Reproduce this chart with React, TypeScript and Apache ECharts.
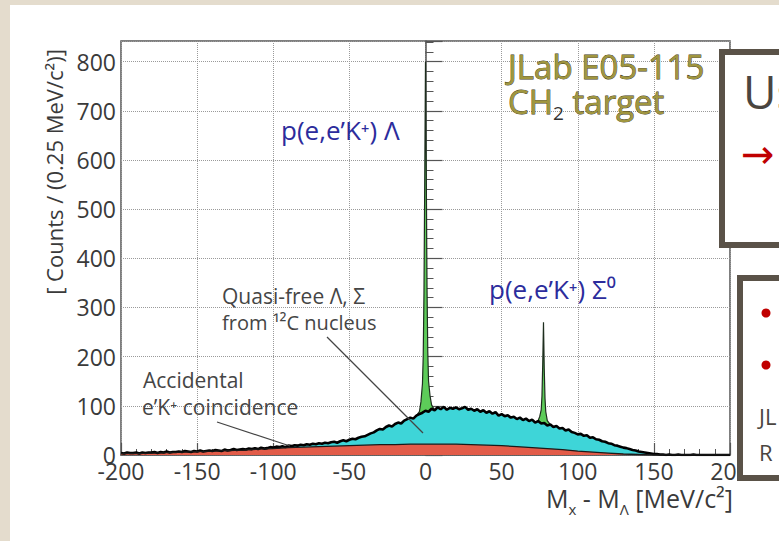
import React, { useEffect, useRef } from 'react';
import * as echarts from 'echarts';

// Bin centres of the histogram (2 MeV/c^2 steps, -200 .. 200)
const binCenters = Array.from({ length: 201 }, (_, i) => -200 + 2 * i);

// Total counts without the two hyperon peaks (quasi-free + accidental)
const totalCounts = [
  4, 3, 5, 4, 4, 5, 3, 5, 4, 5,
  5, 6, 4, 6, 5, 7, 5, 6, 6, 7,
  6, 8, 7, 6, 8, 7, 9, 7, 8, 9,
  8, 10, 9, 8, 11, 9, 10, 12, 10, 11,
  12, 11, 13, 12, 14, 12, 15, 13, 14, 16,
  15, 17, 16, 18, 16, 19, 18, 20, 19, 21,
  20, 22, 21, 23, 22, 24, 23, 25, 24, 26,
  27, 25, 28, 30, 28, 31, 33, 32, 35, 37,
  38, 41, 44, 46, 50, 53, 52, 57, 60, 58,
  63, 66, 64, 70, 73, 76, 74, 80, 83, 86,
  90, 88, 94, 91, 97, 93, 98, 92, 96, 94,
  97, 93, 95, 98, 92, 94, 90, 93, 88, 91,
  86, 89, 84, 87, 80, 83, 79, 81, 76, 78,
  73, 76, 71, 74, 69, 72, 66, 69, 64, 65,
  60, 62, 57, 59, 54, 55, 50, 52, 47, 45,
  42, 43, 39, 40, 35, 36, 32, 31, 28, 27,
  24, 23, 20, 19, 17, 15, 14, 12, 10, 9,
  7, 6, 5, 4, 3, 2, 2, 1, 1, 0,
  1, 0, 0, 1, 0, 0, 0, 0, 1, 0,
  0, 0, 0, 0, 0, 0, 0, 0, 0, 0,
  0,
];

// Accidental e'K+ coincidence background
const accidentalX = Array.from({ length: 41 }, (_, i) => -200 + 10 * i);
const accidentalCounts = [
  3, 3, 4, 5, 6, 7, 8, 9, 10, 12,
  13, 15, 16, 17, 18, 19, 20, 21, 21, 22,
  22, 22, 22, 21, 20, 19, 17, 15, 13, 11,
  8, 6, 4, 2, 1, 0, 0, 0, 0, 0,
  0,
];

// p(e,e'K+)Lambda peak
const lambdaPeakX = [-6, -4, -3, -2, -1.5, -1, -0.5, 0, 0.5, 1, 1.5, 2, 3, 4, 6];
const lambdaPeakCounts = [80, 88, 108, 145, 200, 330, 560, 800, 580, 340, 210, 150, 120, 102, 91];

// p(e,e'K+)Sigma0 peak
const sigmaPeakX = [72, 74, 75, 76, 76.5, 77, 77.5, 78, 78.5, 79, 80, 82];
const sigmaPeakCounts = [66, 70, 78, 92, 120, 185, 270, 175, 115, 88, 70, 62];

const FONT = '"Open Sans", "Noto Sans", "DejaVu Sans", sans-serif';
const AXIS_COLOR = '#555555';
const TEXT_COLOR = '#3a3a3a';

const zip = (xs: number[], ys: number[]) => xs.map((x, i) => [x, ys[i]]);

export default function App() {
  const ref = useRef<HTMLDivElement>(null);

  useEffect(() => {
    if (!ref.current) return;
    const chart = echarts.init(ref.current, null, { renderer: 'svg', width: 779, height: 541 });

    const option: any = {
      animation: false,
      backgroundColor: 'transparent',
      textStyle: { fontFamily: FONT },
      grid: {
        left: 121,
        right: 49,
        top: 41,
        bottom: 86,
        show: true,
        borderColor: AXIS_COLOR,
        borderWidth: 1.5,
        backgroundColor: 'transparent',
        containLabel: false,
        outerBoundsMode: 'none',
      },
      xAxis: {
        type: 'value',
        min: -200,
        max: 200,
        interval: 50,
        axisLine: { show: true, onZero: false, lineStyle: { color: AXIS_COLOR, width: 1.5 } },
        axisTick: { show: true, inside: true, length: 12, lineStyle: { color: AXIS_COLOR, width: 1.2 } },
        minorTick: { show: true, splitNumber: 5, length: 6, lineStyle: { color: AXIS_COLOR, width: 1 } },
        axisLabel: { color: TEXT_COLOR, fontSize: 23, fontFamily: FONT, margin: 4 },
        splitLine: { show: true, lineStyle: { type: 'dotted', color: '#9a9a9a', width: 1 } },
      },
      yAxis: {
        type: 'value',
        min: 0,
        max: 842,
        interval: 100,
        axisLine: { show: true, lineStyle: { color: AXIS_COLOR, width: 1.5 } },
        axisTick: { show: true, inside: true, length: 17, lineStyle: { color: AXIS_COLOR, width: 1.2 } },
        minorTick: { show: true, splitNumber: 5, length: 8, lineStyle: { color: AXIS_COLOR, width: 1 } },
        axisLabel: { color: TEXT_COLOR, fontSize: 23, fontFamily: FONT, margin: 5, showMaxLabel: false },
        splitLine: { show: true, lineStyle: { type: 'dotted', color: '#9a9a9a', width: 1 } },
      },
      series: [
        {
          name: 'Lambda peak',
          type: 'line',
          data: zip(lambdaPeakX, lambdaPeakCounts),
          symbol: 'none',
          z: 2,
          lineStyle: { color: '#1e2e1e', width: 1.2 },
          areaStyle: { color: '#5dcc59', opacity: 1 },
        },
        {
          name: 'Sigma0 peak',
          type: 'line',
          data: zip(sigmaPeakX, sigmaPeakCounts),
          symbol: 'none',
          z: 2,
          lineStyle: { color: '#1e2e1e', width: 1.2 },
          areaStyle: { color: '#5dcc59', opacity: 1 },
        },
        {
          name: 'Quasi-free',
          type: 'line',
          data: zip(binCenters, totalCounts),
          symbol: 'none',
          z: 3,
          lineStyle: { color: '#000000', width: 2.6 },
          areaStyle: { color: '#3ed5d8', opacity: 1 },
        },
        {
          name: 'Accidental',
          type: 'line',
          data: zip(accidentalX, accidentalCounts),
          symbol: 'none',
          z: 3,
          lineStyle: { color: '#1a1a1a', width: 1.3 },
          areaStyle: { color: '#e25c49', opacity: 1 },
        },
      ],
      graphic: [
        // y-axis title
        {
          type: 'text', x: 54, y: 172, rotation: Math.PI / 2, z: 10,
          style: { text: '[ Counts / (0.25 MeV/c²)]', align: 'center', verticalAlign: 'middle', fontSize: 22, fontFamily: FONT, fill: TEXT_COLOR },
        },
        // x-axis title
        {
          type: 'text', x: 733, y: 498, z: 10,
          style: {
            text: 'M{s|x} - M{s|Λ} [MeV/c²]', align: 'right', verticalAlign: 'middle', fontSize: 25, fontFamily: FONT, fill: TEXT_COLOR,
            rich: { s: { fontSize: 15, fontFamily: FONT, fill: TEXT_COLOR, padding: [22, 0, 0, 0] } },
          },
        },
        // experiment label
        {
          type: 'text', x: 508, y: 66, z: 10,
          style: { text: 'JLab E05-115', align: 'left', verticalAlign: 'middle', fontSize: 33, fontFamily: FONT, fill: '#a0963f', stroke: '#3c3818', lineWidth: 0.8 },
        },
        {
          type: 'text', x: 508, y: 101, z: 10,
          style: {
            text: 'CH{s|2} target', align: 'left', verticalAlign: 'middle', fontSize: 33, fontFamily: FONT, fill: '#a0963f', stroke: '#3c3818', lineWidth: 0.8,
            rich: { s: { fontSize: 19, fontFamily: FONT, fill: '#333333', stroke: 'none', padding: [24, 0, 0, 0] } },
          },
        },
        // peak labels
        {
          type: 'text', x: 281, y: 130, z: 10,
          style: { text: 'p(e,e’K⁺) Λ', align: 'left', verticalAlign: 'middle', fontSize: 26, fontFamily: FONT, fill: '#2c2c9c' },
        },
        {
          type: 'text', x: 489, y: 289, z: 10,
          style: { text: 'p(e,e’K⁺) Σ⁰', align: 'left', verticalAlign: 'middle', fontSize: 26, fontFamily: FONT, fill: '#2c2c9c' },
        },
        // quasi-free label
        {
          type: 'text', x: 222, y: 296, z: 10,
          style: { text: 'Quasi-free Λ, Σ', align: 'left', verticalAlign: 'middle', fontSize: 21, fontFamily: FONT, fill: '#454545' },
        },
        {
          type: 'text', x: 222, y: 322, z: 10,
          style: { text: 'from ¹²C nucleus', align: 'left', verticalAlign: 'middle', fontSize: 20, fontFamily: FONT, fill: '#454545' },
        },
        { type: 'line', z: 10, shape: { x1: 327, y1: 337, x2: 423, y2: 433 }, style: { stroke: '#444444', lineWidth: 1.3 } },
        // accidental label
        {
          type: 'text', x: 143, y: 380, z: 10,
          style: { text: 'Accidental', align: 'left', verticalAlign: 'middle', fontSize: 21, fontFamily: FONT, fill: '#454545' },
        },
        {
          type: 'text', x: 142, y: 407, z: 10,
          style: { text: 'e’K⁺ coincidence', align: 'left', verticalAlign: 'middle', fontSize: 21, fontFamily: FONT, fill: '#454545' },
        },
        { type: 'line', z: 10, shape: { x1: 217, y1: 422, x2: 290, y2: 446 }, style: { stroke: '#444444', lineWidth: 1.3 } },
        // right-hand slide boxes (cropped)
        {
          type: 'rect', z: 20, shape: { x: 722, y: 52, width: 120, height: 193 },
          style: { fill: '#ffffff', stroke: '#5a5248', lineWidth: 6 },
        },
        {
          type: 'text', x: 743, y: 91, z: 21,
          style: { text: 'Us', align: 'left', verticalAlign: 'middle', fontSize: 46, fontFamily: FONT, fill: '#4a4540' },
        },
        {
          type: 'text', x: 741, y: 152, z: 21,
          style: { text: '→', align: 'left', verticalAlign: 'middle', fontSize: 40, fontFamily: FONT, fill: '#c00000' },
        },
        {
          type: 'rect', z: 20, shape: { x: 740, y: 278, width: 120, height: 200 },
          style: { fill: '#ffffff', stroke: '#5a5248', lineWidth: 6 },
        },
        { type: 'circle', z: 21, shape: { cx: 766, cy: 313, r: 4.5 }, style: { fill: '#c00000' } },
        { type: 'circle', z: 21, shape: { cx: 766, cy: 365, r: 4.5 }, style: { fill: '#c00000' } },
        {
          type: 'text', x: 759, y: 416, z: 21,
          style: { text: 'JL', align: 'left', verticalAlign: 'middle', fontSize: 22, fontFamily: FONT, fill: '#4a4540' },
        },
        {
          type: 'text', x: 759, y: 452, z: 21,
          style: { text: 'R', align: 'left', verticalAlign: 'middle', fontSize: 22, fontFamily: FONT, fill: '#4a4540' },
        },
      ],
    };

    chart.setOption(option);
    return () => chart.dispose();
  }, []);

  return (
    <div style={{ position: 'absolute', left: 0, top: 0, width: 779, height: 541, background: '#e4dccd', overflow: 'hidden' }}>
      <div style={{ position: 'absolute', left: 10, top: 5, width: 769, height: 536, background: '#ffffff' }} />
      <div ref={ref} style={{ position: 'absolute', left: 0, top: 0, width: 779, height: 541 }} />
    </div>
  );
}
